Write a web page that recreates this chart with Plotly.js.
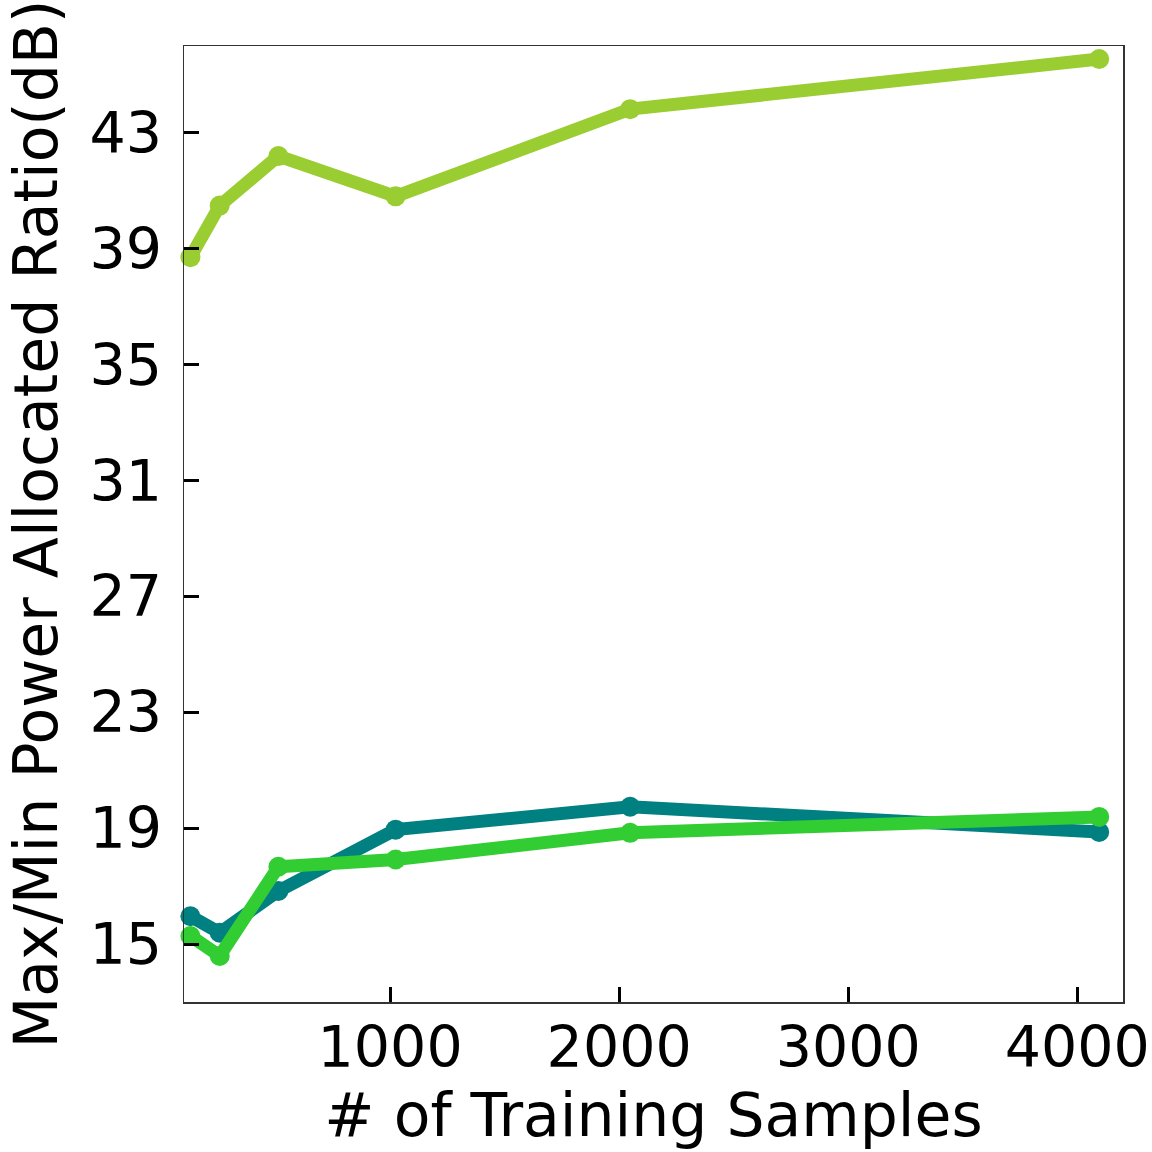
<!DOCTYPE html>
<html>
<head>
<meta charset="utf-8">
<script src="https://cdn.plot.ly/plotly-3.0.1.min.js"></script>
<style>html,body{margin:0;padding:0;background:#fff;}</style>
</head>
<body>
<div id="chart" style="width:1152px;height:1152px;"></div>
<script>
const samples = [128, 256, 512, 1024, 2048, 4096];
const seriesA = [38.71, 40.49, 42.2, 40.81, 43.82, 45.55];   // yellowgreen
const seriesB = [15.96, 15.39, 16.83, 18.95, 19.74, 18.87];  // teal
const seriesC = [15.28, 14.59, 17.67, 17.92, 18.84, 19.39];  // limegreen
const yTicks = [15, 19, 23, 27, 31, 35, 39, 43];
const xTicks = [1000, 2000, 3000, 4000];

const font = 'DejaVu Sans, sans-serif';
function tr(y, color) {
  return {x: samples, y: y, type: 'scatter', mode: 'lines+markers',
    line: {color: color, width: 13}, marker: {color: color, size: 20},
    showlegend: false, cliponaxis: false};
}
const data = [tr(seriesA, '#9ACD32'), tr(seriesB, '#008080'), tr(seriesC, '#32CD32')];
const layout = {
  width: 1152, height: 1152,
  margin: {l: 184, r: 29, t: 46, b: 150},
  paper_bgcolor: '#fff', plot_bgcolor: '#fff',
  font: {family: font, color: '#000', size: 60},
  xaxis: {range: [100, 4200], tickvals: xTicks, ticktext: xTicks.map(String),
    ticks: 'inside', ticklen: 15, tickwidth: 3, tickcolor: '#000',
    showgrid: false, zeroline: false, showline: true, mirror: true,
    linecolor: '#333', linewidth: 1.5, ticklabelstandoff: -5,
    ticklabeloverflow: 'allow',
    tickfont: {family: font, size: 57, color: '#000'},
    title: {text: '# of Training Samples', font: {family: font, size: 60, color: '#000'}, standoff: 4}},
  yaxis: {range: [13, 46], tickvals: yTicks, ticktext: yTicks.map(String),
    ticks: 'inside', ticklen: 15, tickwidth: 3, tickcolor: '#000',
    showgrid: false, zeroline: false, showline: true, mirror: true,
    linecolor: '#333', linewidth: 1.5, ticklabelstandoff: 9,
    ticklabeloverflow: 'allow',
    tickfont: {family: font, size: 57, color: '#000'},
    title: {text: 'Max/Min Power Allocated Ratio(dB)', font: {family: font, size: 60, color: '#000'}, standoff: 12}}
};
Plotly.newPlot('chart', data, layout, {displayModeBar: false, staticPlot: true});
</script>
</body>
</html>
